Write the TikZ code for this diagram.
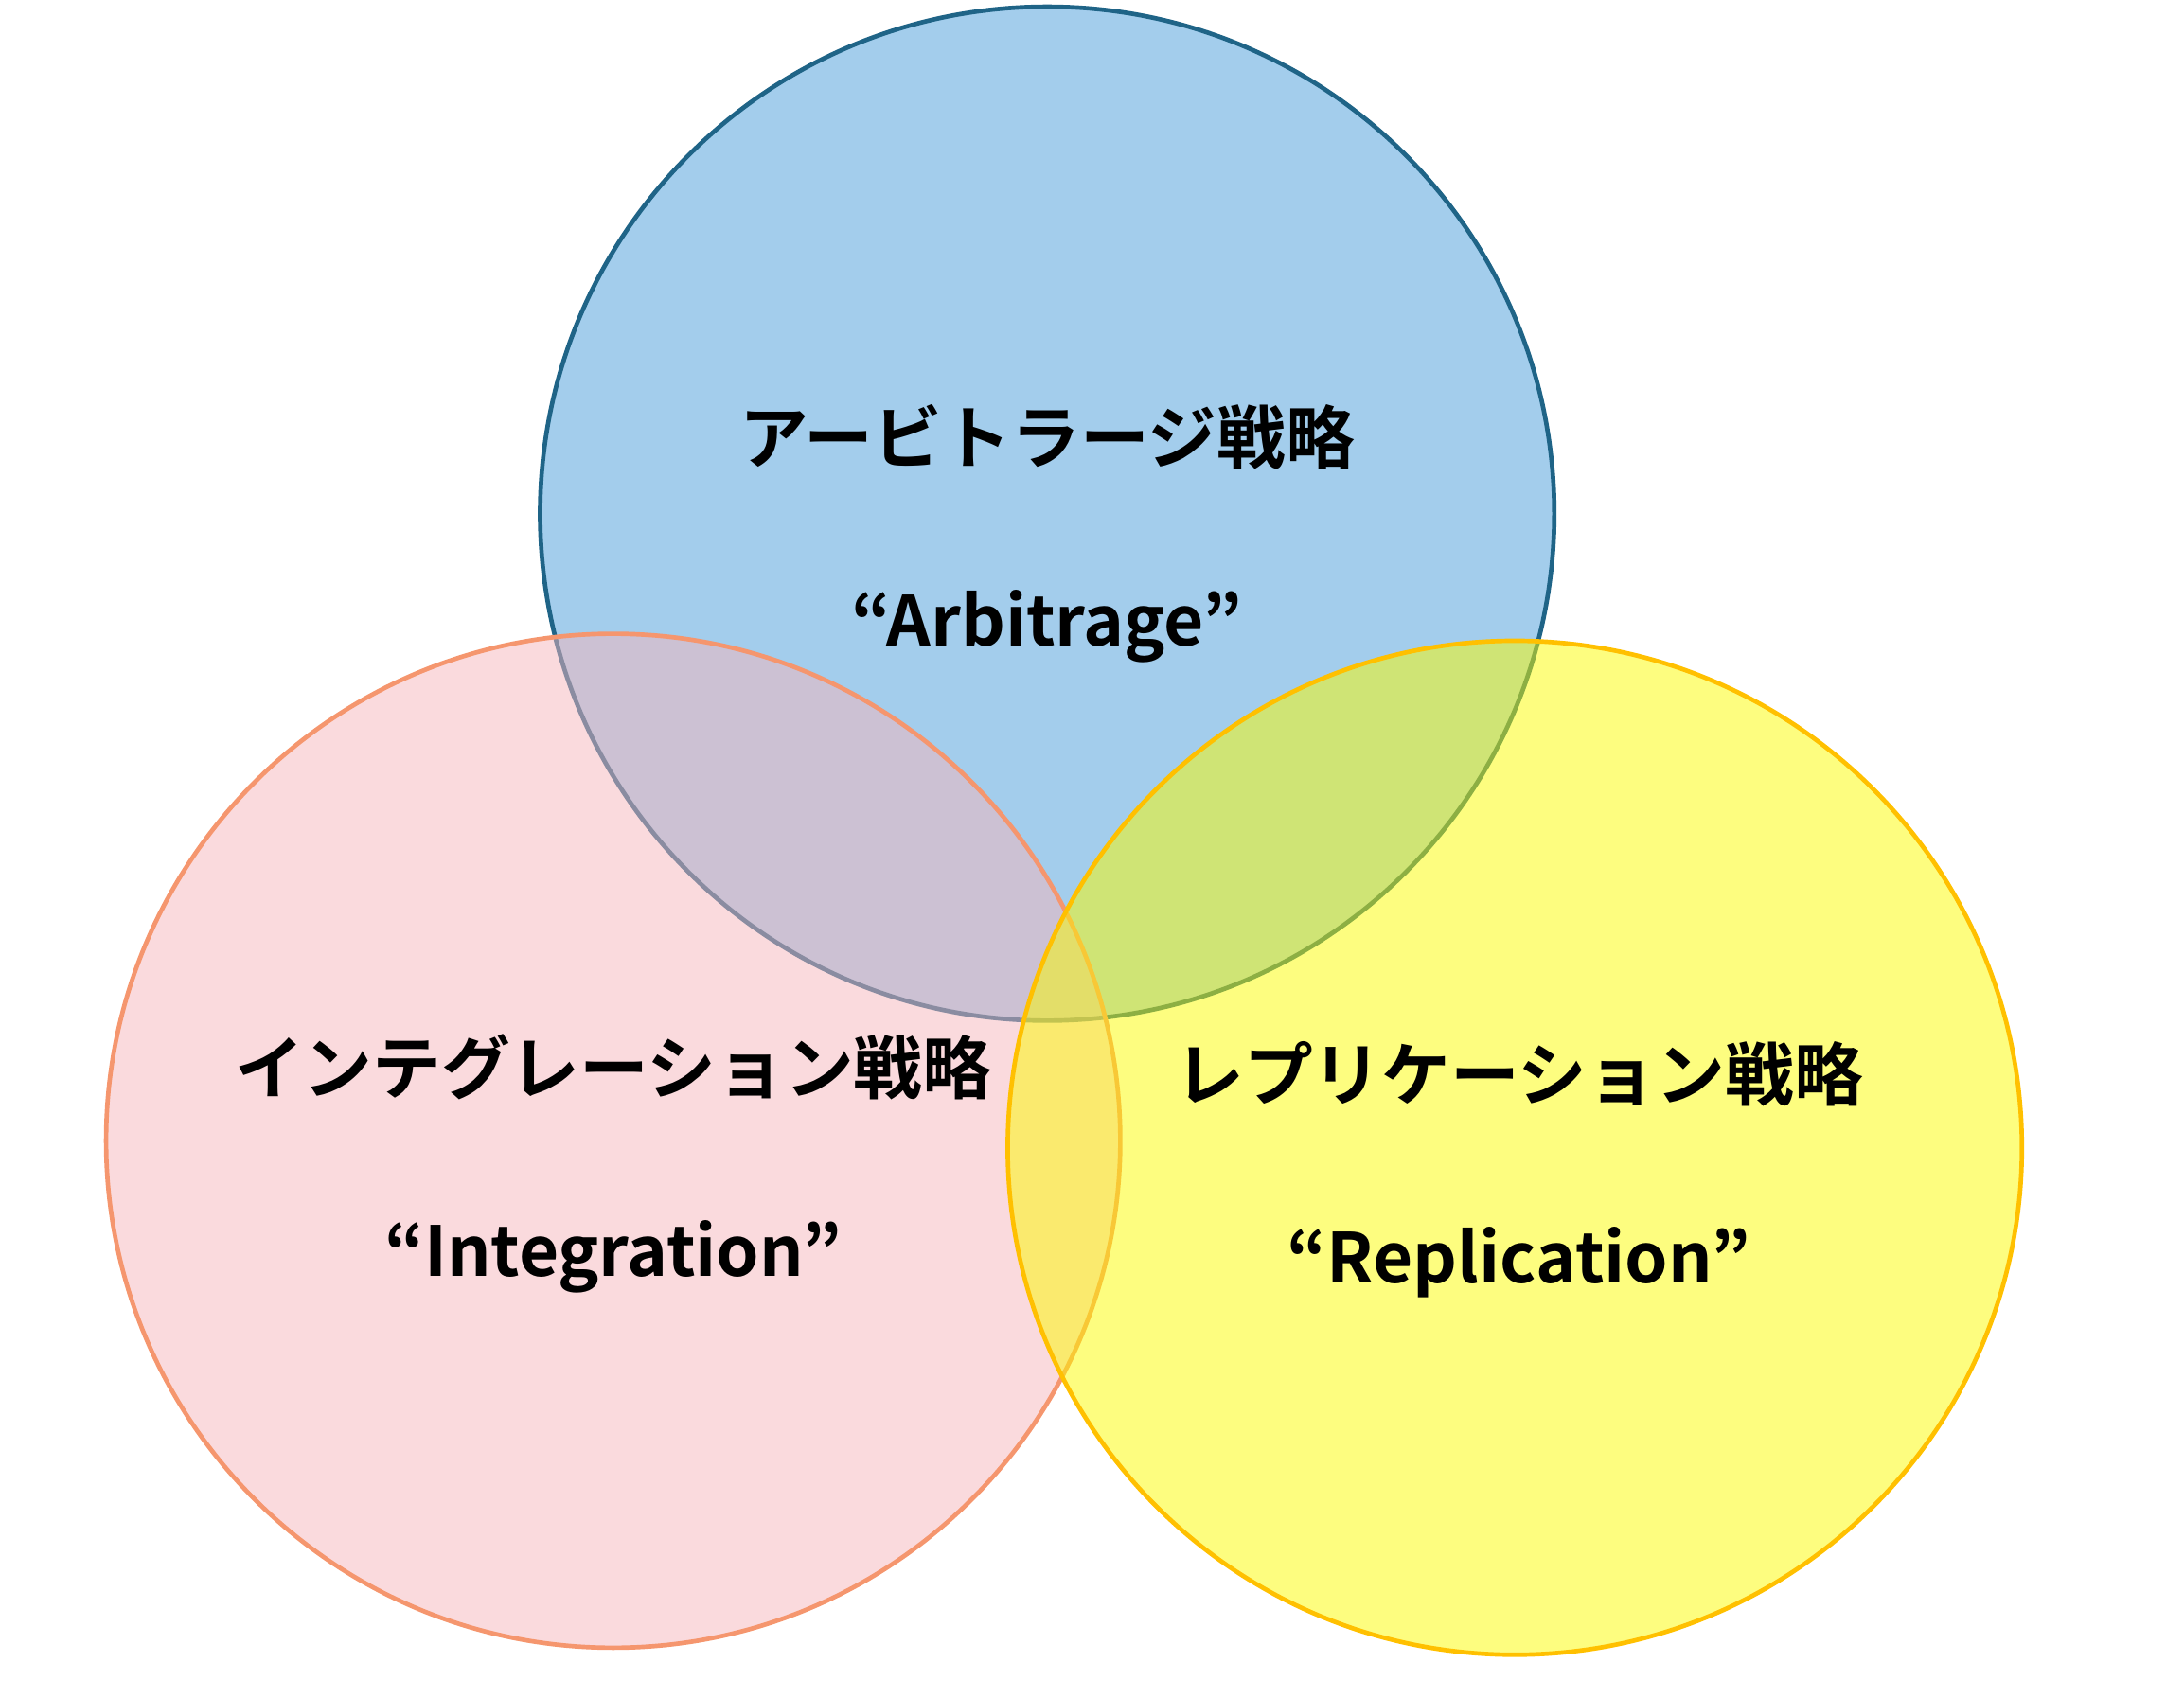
\documentclass[tikz,border=0pt]{standalone}
\usepackage{fontspec}
\setmainfont{Noto Sans CJK JP Bold}
\usetikzlibrary{positioning}
\definecolor{arbfill}{RGB}{71,155,217}
\definecolor{arbline}{RGB}{31,100,135}
\definecolor{intfill}{RGB}{245,181,187}
\definecolor{intline}{RGB}{245,150,110}
\definecolor{repfill}{RGB}{251,251,0}
\definecolor{repline}{RGB}{255,192,0}
\begin{document}
\begin{tikzpicture}[x=0.01cm,y=-0.01cm]
		\tikzstyle{set}=[circle, minimum size = 7.24cm, line width = 0.9pt, fill opacity = 0.5, draw opacity = 1, inner sep = 0pt]
		\tikzstyle{title}=[font=\fontsize{14}{16}\selectfont, inner sep = 0pt]
		\useasboundingbox (0,0) rectangle (1560,1213);
		\node[set, fill = arbfill, draw = arbline] (arb) at (748,367) {};
		\node[set, fill = intfill, draw = intline] (int) at (438,815) {};
		\node[set, fill = repfill, draw = repline] (rep) at (1082,820) {};
		
		\node[title] (arbja) at (748,312) {アービトラージ戦略};
		\node[title] (arben) [below = 0.85cm of arbja] {“Arbitrage”};
		\node[title] (intja) at (438,762) {インテグレーション戦略};
		\node[title] (inten) [below = 0.85cm of intja] {“Integration”};
		\node[title] (repja) at (1085,767) {レプリケーション戦略};
		\node[title] (repen) [below = 0.85cm of repja] {“Replication”};
\end{tikzpicture}
\end{document}
